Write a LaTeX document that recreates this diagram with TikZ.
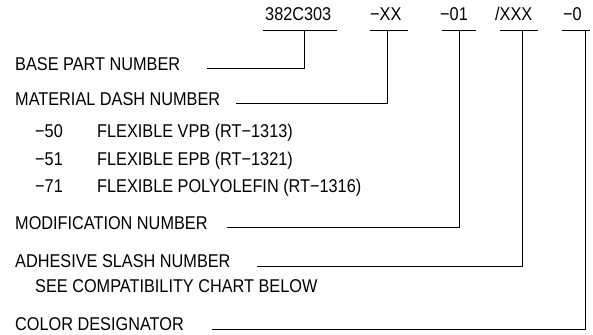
\documentclass[tikz,border=0pt]{standalone}
\usepackage{fontspec}
\setmainfont[FakeStretch=0.88]{Liberation Sans}
\usepackage{tikz}
\usetikzlibrary{positioning,calc}

\begin{document}
\begin{tikzpicture}[x=1pt, y=-1pt,
    lbl/.style={anchor=base west, inner sep=0pt, font=\fontsize{18.5}{21}\selectfont},
    lead/.style={line width=1pt}]
  \useasboundingbox (0,0) rectangle (593,334);

  % Part number code
  \node[lbl] (pn)   at (265,21) {382C303};
  \node[lbl] (dash) at (370,21) {−XX};
  \node[lbl] (mod)  at (440,21) {−01};
  \node[lbl] (adh)  at (495,21) {/XXX};
  \node[lbl] (col)  at (563,21) {−0};

  % Underlines and tap points
  \coordinate (pnT)   at (304,31);
  \coordinate (dashT) at (387,31);
  \coordinate (modT)  at (459,31);
  \coordinate (adhT)  at (522,31);
  \coordinate (colT)  at (585,31);
  \draw[lead] (263,31) -- (337,31);
  \draw[lead] (370,31) -- (408,31);
  \draw[lead] (442,31) -- (476,31);
  \draw[lead] (500,31) -- (538,31);
  \draw[lead] (562,31) -- (590,31);

  % Descriptions
  \node[lbl] (baseL) at (15,70.5) {BASE PART NUMBER};
  \node[lbl] (matL)  at (15,105)  {MATERIAL DASH NUMBER};
  \node[lbl] (m50)   at (35,137)  {−50};
  \node[lbl] (m51)   at (35,165)  {−51};
  \node[lbl] (m71)   at (35,192)  {−71};
  \node[lbl] (f50)   at (97,137)  {FLEXIBLE VPB (RT−1313)};
  \node[lbl] (f51)   at (97,165)  {FLEXIBLE EPB (RT−1321)};
  \node[lbl] (f71)   at (97,192)  {FLEXIBLE POLYOLEFIN (RT−1316)};
  \node[lbl] (modL)  at (15,229)  {MODIFICATION NUMBER};
  \node[lbl] (adhL)  at (15,267.5){ADHESIVE SLASH NUMBER};
  \node[lbl] (seeL)  at (35,292)  {SEE COMPATIBILITY CHART BELOW};
  \node[lbl] (colL)  at (15,330)  {COLOR DESIGNATOR};

  % Leader line starts
  \coordinate (baseS) at (207,69);
  \coordinate (matS)  at (236,103);
  \coordinate (modS)  at (227,227.5);
  \coordinate (adhS)  at (257,266);
  \coordinate (colS)  at (212,329);

  % Leaders
  \draw[lead] (baseS) -| (pnT);
  \draw[lead] (matS)  -| (dashT);
  \draw[lead] (modS)  -| (modT);
  \draw[lead] (adhS)  -| (adhT);
  \draw[lead] (colS)  -| (colT);
\end{tikzpicture}
\end{document}
